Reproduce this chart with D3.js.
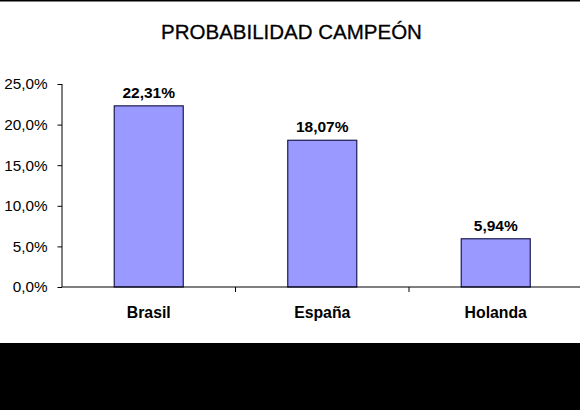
<!DOCTYPE html>
<html><head><meta charset="utf-8">
<script src="https://cdn.jsdelivr.net/npm/d3@7"></script>
<style>body{margin:0;background:#fff;}svg{display:block;}</style>
</head><body>
<svg id="c" width="580" height="410"></svg>
<script>
const categories = ["Brasil", "España", "Holanda"];
const values = [22.31, 18.07, 5.94];
const valueLabels = ["22,31%", "18,07%", "5,94%"];
const yTicks = [0, 5, 10, 15, 20, 25];
const yTickLabels = ["0,0%", "5,0%", "10,0%", "15,0%", "20,0%", "25,0%"];
const title = "PROBABILIDAD CAMPEÓN";

(function () {
const svg = d3.select("#c");
const W = 580, H = 410;
const FF = "Liberation Sans, Arial, sans-serif";
svg.append("rect").attr("width", W).attr("height", H).attr("fill", "#fff");
svg.append("rect").attr("x", 0).attr("y", 343).attr("width", W).attr("height", H - 343).attr("fill", "#000");
svg.append("line").attr("x1", 0).attr("x2", W).attr("y1", 0.5).attr("y2", 0.5).attr("stroke", "#000").attr("stroke-width", 2);

const pLeft = 62, pRight = 582.5, pTop = 84, pBottom = 287;
const xb = d3.scaleBand().domain(categories).range([pLeft, pRight]);
const y = d3.scaleLinear().domain([0, 25]).range([pBottom, pTop]);

svg.append("text").attr("x", 291.5).attr("y", 39).attr("text-anchor", "middle")
  .attr("font-family", FF).attr("font-size", 20.5).attr("fill", "#000")
  .attr("stroke", "#000").attr("stroke-width", 0.3).text(title);

// bars
svg.selectAll("rect.bar").data(values).enter().append("rect").attr("class", "bar")
  .attr("x", (d, i) => xb(categories[i]) + xb.bandwidth() / 2 - 34.5)
  .attr("width", 69)
  .attr("y", d => y(d)).attr("height", d => y(0) - y(d))
  .attr("fill", "#9999ff").attr("stroke", "#1c1c50").attr("stroke-width", 1.2);

// value labels
svg.selectAll("text.vl").data(values).enter().append("text").attr("class", "vl")
  .attr("x", (d, i) => xb(categories[i]) + xb.bandwidth() / 2)
  .attr("y", d => y(d) - 8)
  .attr("text-anchor", "middle").attr("font-family", FF)
  .attr("font-weight", "bold").attr("font-size", 15.5).attr("fill", "#000")
  .text((d, i) => valueLabels[i]);

// y axis
const yAxis = d3.axisLeft(y).tickValues(yTicks).tickFormat((d, i) => yTickLabels[i]).tickSize(4.5).tickPadding(10);
const gy = svg.append("g").attr("transform", `translate(${pLeft},0)`).call(yAxis);
gy.select(".domain").attr("stroke", "#000").attr("d", `M0,${pTop}V${pBottom}`);
gy.selectAll(".tick line").attr("stroke", "#000");
gy.selectAll("text").attr("font-family", FF).attr("font-size", 15.3).attr("fill", "#000");

// x axis
const gx = svg.append("g").attr("transform", `translate(0,${pBottom})`);
gx.append("line").attr("x1", pLeft).attr("x2", W).attr("y1", 0).attr("y2", 0).attr("stroke", "#000").attr("stroke-width", 1.2);
gx.selectAll("line.t").data(categories.slice(1)).enter().append("line").attr("class", "t")
  .attr("x1", d => xb(d)).attr("x2", d => xb(d)).attr("y1", 0).attr("y2", 5).attr("stroke", "#000");
gx.selectAll("text").data(categories).enter().append("text")
  .attr("x", d => xb(d) + xb.bandwidth() / 2).attr("y", 30.5)
  .attr("text-anchor", "middle").attr("font-family", FF)
  .attr("font-weight", "bold").attr("font-size", 15.8).attr("fill", "#000").text(d => d);
})();
</script>
</body></html>
